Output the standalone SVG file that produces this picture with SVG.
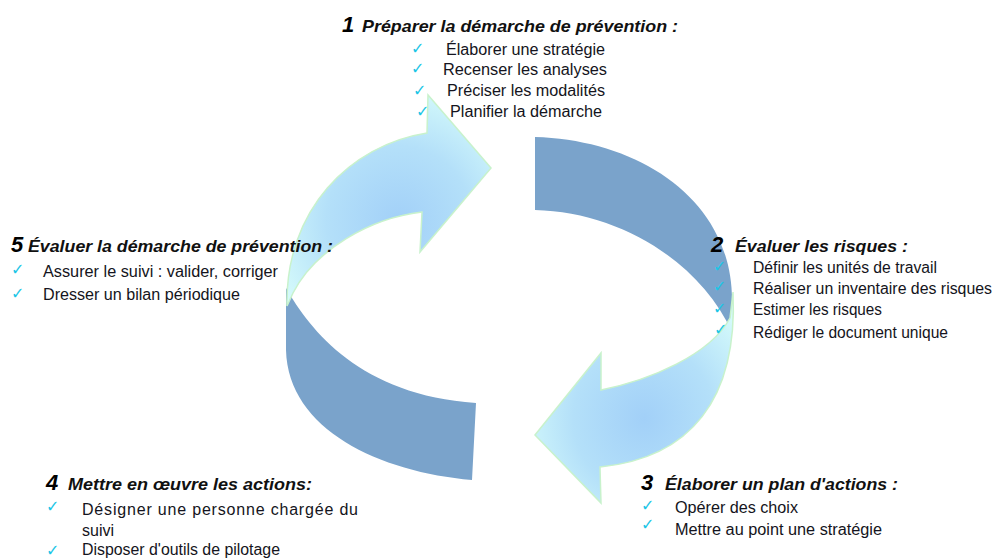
<svg xmlns="http://www.w3.org/2000/svg" width="994" height="559" viewBox="0 0 994 559">
<defs>
<radialGradient id="lightGrad" cx="0.55" cy="0.6" r="0.65">
<stop offset="0" stop-color="#a2d0f8"/>
<stop offset="0.55" stop-color="#b4e0f9"/>
<stop offset="1" stop-color="#d4fafb"/>
</radialGradient>
</defs>
<style>
.t{font-family:"Liberation Sans",Arial,sans-serif;font-size:16px;fill:#141420}
.h{font-family:"Liberation Sans",Arial,sans-serif;font-size:17px;font-weight:bold;font-style:italic;fill:#111}
.n{font-family:"Liberation Sans",Arial,sans-serif;font-size:22px;font-weight:bold;font-style:italic;fill:#000}
.c{font-family:"DejaVu Sans",sans-serif;font-size:16px;fill:#1cc6e6}
.dark{fill:#7aa3cb}
.light{fill:url(#lightGrad);stroke:#c8f2cc;stroke-width:1.5;stroke-linejoin:miter}
</style>
<rect width="994" height="559" fill="#fff"/>
<g id="connectors">
<path class="dark" d="M535,137 C640,140 732,200 732,300 L732,332 C700,262 620,212 535,210 Z"/>
<path class="dark" d="M476,403 L472,480 C380,472 288,430 286,350 L286,288 C310,330 360,395 476,403 Z"/>
<path class="light" d="M287,306 C285,210 350,145 427,133 L428,95 L491,168 L420,252 L422,212 C370,218 315,250 293,293 Z"/>
<path class="light" d="M733,292 C738,400 690,458 600,467 L601,503 L535,435 L601,353 L601,390 C650,380 710,355 730,318 Z"/>
</g>
<g id="step1">
<text class="n" x="342" y="32">1</text>
<text class="h" x="362" y="32" textLength="316" lengthAdjust="spacingAndGlyphs">Préparer la démarche de prévention :</text>
<text class="c" x="411" y="54">✓</text>
<text class="c" x="411" y="74">✓</text>
<text class="c" x="413" y="96">✓</text>
<text class="c" x="416" y="117">✓</text>
<text class="t" x="446" y="55" textLength="159" lengthAdjust="spacingAndGlyphs">Élaborer une stratégie</text>
<text class="t" x="443" y="75" textLength="164" lengthAdjust="spacingAndGlyphs">Recenser les analyses</text>
<text class="t" x="447" y="96" textLength="158" lengthAdjust="spacingAndGlyphs">Préciser les modalités</text>
<text class="t" x="450" y="117" textLength="152" lengthAdjust="spacingAndGlyphs">Planifier la démarche</text>
</g>
<g id="step2">
<text class="n" x="711" y="252">2</text>
<text class="h" x="735" y="252" textLength="173" lengthAdjust="spacingAndGlyphs">Évaluer les risques :</text>
<text class="c" x="713" y="272">✓</text>
<text class="c" x="713" y="292">✓</text>
<text class="c" x="713" y="314">✓</text>
<text class="c" x="714" y="335">✓</text>
<text class="t" x="753" y="273" textLength="184" lengthAdjust="spacingAndGlyphs">Définir les unités de travail</text>
<text class="t" x="753" y="294" textLength="239" lengthAdjust="spacingAndGlyphs">Réaliser un inventaire des risques</text>
<text class="t" x="753" y="315" textLength="129" lengthAdjust="spacingAndGlyphs">Estimer les risques</text>
<text class="t" x="753" y="338" textLength="195" lengthAdjust="spacingAndGlyphs">Rédiger le document unique</text>
</g>
<g id="step3">
<text class="n" x="641" y="490">3</text>
<text class="h" x="665" y="490" textLength="233" lengthAdjust="spacingAndGlyphs">Élaborer un plan d'actions :</text>
<text class="c" x="641" y="511">✓</text>
<text class="c" x="641" y="530">✓</text>
<text class="t" x="675" y="513" textLength="123" lengthAdjust="spacingAndGlyphs">Opérer des choix</text>
<text class="t" x="675" y="535" textLength="207" lengthAdjust="spacingAndGlyphs">Mettre au point une stratégie</text>
</g>
<g id="step4">
<text class="n" x="46" y="490">4</text>
<text class="h" x="68" y="490" textLength="244" lengthAdjust="spacingAndGlyphs">Mettre en œuvre les actions:</text>
<text class="c" x="46" y="512">✓</text>
<text class="c" x="46" y="556">✓</text>
<text class="t" x="82" y="515" textLength="276" lengthAdjust="spacing">Désigner une personne chargée du</text>
<text class="t" x="82" y="536">suivi</text>
<text class="t" x="82" y="555" textLength="198" lengthAdjust="spacingAndGlyphs">Disposer d'outils de pilotage</text>
</g>
<g id="step5">
<text class="n" x="11" y="252">5</text>
<text class="h" x="28" y="252" textLength="305" lengthAdjust="spacingAndGlyphs">Évaluer la démarche de prévention :</text>
<text class="c" x="11" y="275">✓</text>
<text class="c" x="11" y="299">✓</text>
<text class="t" x="43" y="277" textLength="235" lengthAdjust="spacingAndGlyphs">Assurer le suivi : valider, corriger</text>
<text class="t" x="43" y="300" textLength="197" lengthAdjust="spacingAndGlyphs">Dresser un bilan périodique</text>
</g>
</svg>
